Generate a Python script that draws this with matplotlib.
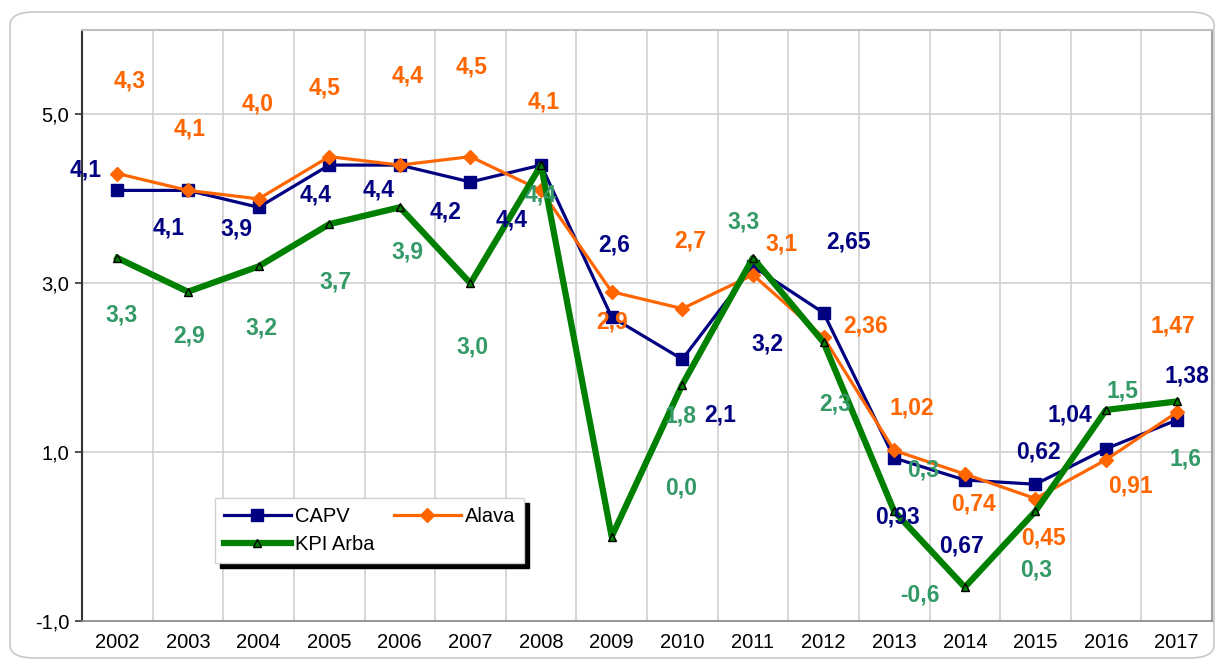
import numpy as np
import matplotlib
matplotlib.use('Agg')
import matplotlib.pyplot as plt
from matplotlib.patches import FancyBboxPatch

plt.rcParams['font.family'] = ['Liberation Sans', 'DejaVu Sans']

years = ['2002', '2003', '2004', '2005', '2006', '2007', '2008', '2009',
         '2010', '2011', '2012', '2013', '2014', '2015', '2016', '2017']

capv = [4.1, 4.1, 3.9, 4.4, 4.4, 4.2, 4.4, 2.6, 2.1, 3.2, 2.65, 0.93, 0.67, 0.62, 1.04, 1.38]
alava = [4.3, 4.1, 4.0, 4.5, 4.4, 4.5, 4.1, 2.9, 2.7, 3.1, 2.36, 1.02, 0.74, 0.45, 0.91, 1.47]
kpi = [3.3, 2.9, 3.2, 3.7, 3.9, 3.0, 4.4, 0.0, 1.8, 3.3, 2.3, 0.3, -0.6, 0.3, 1.5, 1.6]

capv_txt = ['4,1', '4,1', '3,9', '4,4', '4,4', '4,2', '4,4', '2,6', '2,1', '3,2', '2,65',
            '0,93', '0,67', '0,62', '1,04', '1,38']
alava_txt = ['4,3', '4,1', '4,0', '4,5', '4,4', '4,5', '4,1', '2,9', '2,7', '3,1', '2,36',
             '1,02', '0,74', '0,45', '0,91', '1,47']
kpi_txt = ['3,3', '2,9', '3,2', '3,7', '3,9', '3,0', '4,4', '0,0', '1,8', '3,3', '2,3',
           '0,3', '-0,6', '0,3', '1,5', '1,6']

# where the data labels sit (data coords) - they are scattered in the original
capv_lx = [-0.45, 0.72, 1.69, 2.81, 3.70, 4.65, 5.59, 7.03, 8.53, 9.20, 10.36, 11.04, 11.96, 13.04, 13.49, 15.14]
capv_ly = [4.34, 3.66, 3.64, 4.04, 4.10, 3.85, 3.75, 3.45, 1.44, 2.28, 3.49, 0.23, -0.11, 1.0, 1.44, 1.90]
alava_lx = [0.17, 1.02, 1.98, 2.93, 4.11, 5.02, 6.03, 7.00, 8.11, 9.40, 10.59, 11.25, 12.13, 13.11, 14.34, 14.94]
alava_ly = [5.40, 4.83, 5.12, 5.31, 5.46, 5.56, 5.15, 2.54, 3.50, 3.46, 2.50, 1.52, 0.38, -0.02, 0.60, 2.49]
kpi_lx = [0.06, 1.02, 2.04, 3.09, 4.11, 5.03, 6.0, 7.98, 7.98, 8.86, 10.16, 11.41, 11.37, 13.01, 14.23, 15.12]
kpi_ly = [2.62, 2.38, 2.47, 3.01, 3.37, 2.24, 4.04, 0.57, 1.43, 3.73, 1.57, 0.79, -0.69, -0.40, 1.73, 0.92]

navy = '#000080'
orange = '#FF6600'
green = '#008000'
green_txt = '#339966'

fig = plt.figure(figsize=(12.21, 6.66), dpi=100)
fig.patches.append(FancyBboxPatch((10 / 1221, 8 / 666), 1204 / 1221, 646 / 666,
                                  boxstyle='round,pad=0,rounding_size=0.02',
                                  transform=fig.transFigure, fill=False,
                                  edgecolor='#c8c8c8', lw=1.2))
ax = fig.add_axes([82 / 1221, 45 / 666, 1130 / 1221, 591 / 666])

x = np.arange(len(years))
l1, = ax.plot(x, capv, color=navy, lw=2.3, marker='s', ms=8, zorder=3, label='CAPV')
l2, = ax.plot(x, alava, color=orange, lw=2.3, marker='D', ms=7, zorder=3, label='Alava')
l3, = ax.plot(x, kpi, color=green, lw=4.5, marker='^', ms=6, mfc=green, mec='black',
              mew=1, zorder=3, label='KPI Arba')

lab_size = 16.5
for txt, lx, ly in zip(capv_txt, capv_lx, capv_ly):
    ax.text(lx, ly, txt, color=navy, fontsize=lab_size, fontweight='bold', ha='center', va='center', zorder=5)
for txt, lx, ly in zip(alava_txt, alava_lx, alava_ly):
    ax.text(lx, ly, txt, color=orange, fontsize=lab_size, fontweight='bold', ha='center', va='center', zorder=5)
for txt, lx, ly in zip(kpi_txt, kpi_lx, kpi_ly):
    ax.text(lx, ly, txt, color=green_txt, fontsize=lab_size, fontweight='bold', ha='center', va='center', zorder=5)

ax.set_xlim(-0.5, 15.5)
ax.set_ylim(-1, 6)
ax.set_yticks([-1, 1, 3, 5])
ax.set_yticklabels(['-1,0', '1,0', '3,0', '5,0'], fontsize=14.5)
ax.set_xticks(x)
ax.set_xticklabels(years, fontsize=14.5)
ax.set_xticks(np.arange(0.5, 15, 1), minor=True)
ax.tick_params(axis='x', which='both', length=0, pad=9)
ax.tick_params(axis='y', length=5, width=1.2, color='#333333', pad=4)
ax.grid(axis='y', which='major', color='#d0d0d0', lw=1.2)
ax.grid(axis='x', which='minor', color='#d0d0d0', lw=1.2)
ax.set_axisbelow(True)

ax.spines['left'].set_color('#333333')
ax.spines['left'].set_linewidth(1.5)
ax.spines['bottom'].set_color('#888888')
ax.spines['bottom'].set_linewidth(1.2)
ax.spines['top'].set_color('#c0c0c0')
ax.spines['top'].set_linewidth(1.5)
ax.spines['right'].set_color('#a0a0a0')
ax.spines['right'].set_linewidth(1.5)

# legend is filled column by column, so order handles to read CAPV, Alava / KPI Arba
leg = fig.legend(handles=[l1, l3, l2], loc='upper left',
                 bbox_to_anchor=(215 / 1221, 1 - 498 / 666), ncol=2, fontsize=14.5,
                 handlelength=3.3, columnspacing=1.0, handletextpad=0.2,
                 labelspacing=0.45, borderpad=0.45, borderaxespad=0, fancybox=False,
                 shadow={'color': 'black', 'alpha': 1, 'ox': 3.5, 'oy': -3.5}, framealpha=1,
                 edgecolor='#d0d0d0')

fig.savefig('out.png', dpi=100)
